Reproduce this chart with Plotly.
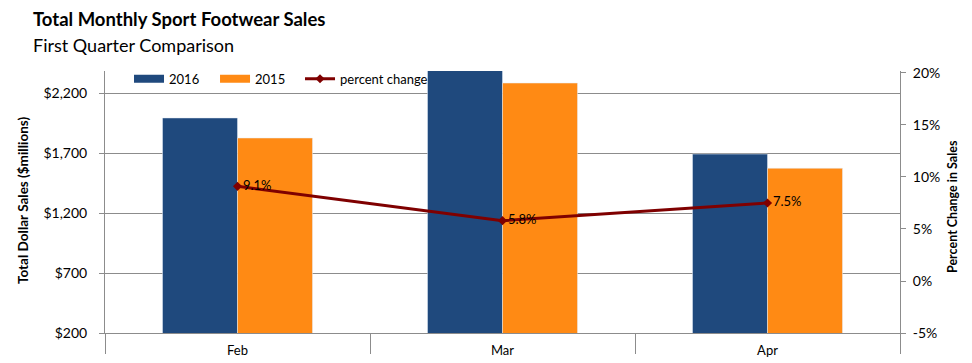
import plotly.graph_objects as go

months = ["Feb", "Mar", "Apr"]
sales_2016 = [1992, 2415, 1691]
sales_2015 = [1825, 2283, 1573]
pct_change = [9.1, 5.8, 7.5]
pct_labels = ["9.1%", "5.8%", "7.5%"]
left_ticks = [200, 700, 1200, 1700, 2200]
left_tick_text = ["$200", "$700", "$1,200", "$1,700", "$2,200"]
right_ticks = [-5, 0, 5, 10, 15, 20]
right_tick_text = ["-5%", "0%", "5%", "10%", "15%", "20%"]

BLUE = "#1F497D"
ORANGE = "#FF8A14"
RED = "#7F0000"
GRAY = "#8C8C8C"
FONT = "Lato"

fig = go.Figure()
fig.add_trace(go.Bar(x=months, y=sales_2016, name="2016", marker_color=BLUE,
                     showlegend=False))
fig.add_trace(go.Bar(x=months, y=sales_2015, name="2015", marker_color=ORANGE,
                     showlegend=False))
# legend swatches
fig.add_trace(go.Scatter(x=[None], y=[None], mode="lines", name="2016",
                         line=dict(color=BLUE, width=8), legend="legend"))
fig.add_trace(go.Scatter(x=[None], y=[None], mode="lines", name="2015",
                         line=dict(color=ORANGE, width=8), legend="legend2"))
fig.add_trace(go.Scatter(x=months, y=pct_change, name="percent change", yaxis="y2",
                         mode="lines+markers+text", text=pct_labels,
                         textposition="middle right",
                         textfont=dict(family=FONT, size=13, color="#000"),
                         line=dict(color=RED, width=3),
                         marker=dict(symbol="diamond", size=7, color=RED),
                         legend="legend3"))

def legend_at(xp):
    return dict(orientation="h", x=xp, y=0.97, xanchor="left", yanchor="middle",
                bgcolor="rgba(0,0,0,0)", font=dict(family=FONT, size=13), itemwidth=30)

# the page body adds an 8px offset, so the figure is 8px smaller
fig.update_layout(
    width=964, height=355,
    margin=dict(l=97, r=72, t=63, b=30),
    plot_bgcolor="white", paper_bgcolor="white",
    font=dict(family=FONT, size=13, color="#000"),
    barmode="group", bargap=0.434, bargroupgap=0,
    showlegend=True,
    legend=legend_at(0.0302),
    legend2=legend_at(0.1384),
    legend3=legend_at(0.2453),
    xaxis=dict(type="category", showline=True, linecolor=GRAY, linewidth=1,
               ticks="outside", tickson="boundaries", ticklen=20, tickcolor=GRAY,
               ticklabelstandoff=5, showgrid=False, zeroline=False,
               tickfont=dict(size=13), automargin=False),
    yaxis=dict(range=[200, 2383.3], tickmode="array", tickvals=left_ticks,
               ticktext=left_tick_text,
               showline=True, linecolor=GRAY, linewidth=1, ticks="outside", ticklen=5,
               tickcolor=GRAY, showgrid=True, gridcolor=GRAY, gridwidth=1,
               zeroline=False, ticklabelstandoff=9, tickfont=dict(size=14),
               automargin=False),
    yaxis2=dict(range=[-5, 20.19], tickmode="array", tickvals=right_ticks,
                ticktext=right_tick_text,
                overlaying="y", side="right", showline=True, linecolor=GRAY,
                linewidth=1, ticks="outside", ticklen=5, tickcolor=GRAY,
                showgrid=False, zeroline=False, ticklabelstandoff=4,
                tickfont=dict(size=14), automargin=False),
    annotations=[
        dict(text="<b>Total Monthly Sport Footwear Sales</b>", xref="paper", yref="paper",
             x=-0.0931, y=(333 - 19) / 262, xanchor="left", yanchor="middle",
             showarrow=False, font=dict(family=FONT, size=18.5)),
        dict(text="First Quarter Comparison", xref="paper", yref="paper",
             x=-0.0931, y=(333 - 45) / 262, xanchor="left", yanchor="middle",
             showarrow=False, font=dict(family=FONT, size=18)),
        dict(text="<b>Total Dollar Sales ($millions)</b>", xref="paper", yref="paper",
             x=(23 - 105) / 795, y=(333 - 201) / 262, xanchor="center", yanchor="middle",
             textangle=-90, showarrow=False, font=dict(family=FONT, size=13.5)),
        dict(text="<b>Percent Change in Sales</b>", xref="paper", yref="paper",
             x=(952 - 105) / 795, y=(333 - 207) / 262, xanchor="center", yanchor="middle",
             textangle=-90, showarrow=False, font=dict(family=FONT, size=12.5)),
    ],
)

fig.write_html("out.html")
